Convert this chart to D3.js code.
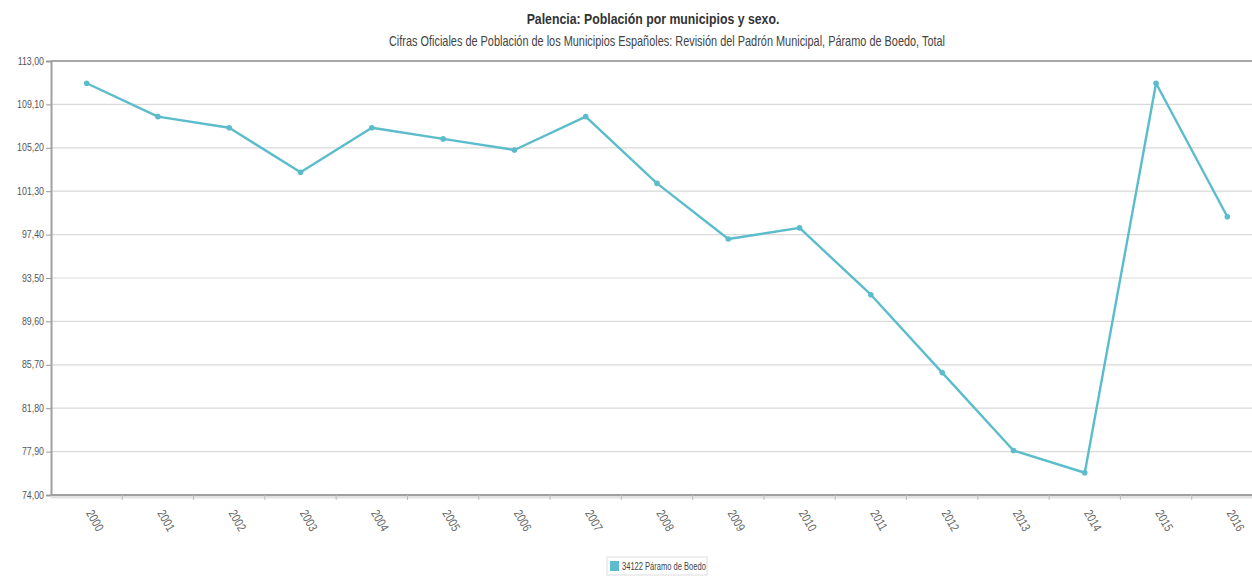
<!DOCTYPE html>
<html>
<head>
<meta charset="utf-8">
<script src="https://cdn.jsdelivr.net/npm/d3@7"></script>
<style>
  html, body { margin: 0; padding: 0; background: #fff; }
  svg { display: block; }
  text { font-family: "Liberation Sans", Arial, sans-serif; }
</style>
</head>
<body>
<svg id="chart" width="1252" height="577"></svg>
<script>
// Population of Páramo de Boedo (Palencia), municipal register
const years = ["2000","2001","2002","2003","2004","2005","2006","2007","2008",
               "2009","2010","2011","2012","2013","2014","2015","2016"];
const population = [111,108,107,103,107,106,105,108,102,97,98,92,85,78,76,111,99];
const yTicks = [74.0,77.9,81.8,85.7,89.6,93.5,97.4,101.3,105.2,109.1,113.0];
const seriesName = "34122 Páramo de Boedo";
const titleText = "Palencia: Población por municipios y sexo.";
const subtitleText = "Cifras Oficiales de Población de los Municipios Españoles: Revisión del Padrón Municipal, Páramo de Boedo, Total";

const svg = d3.select("#chart");
const plot = { left: 51, right: 1263, top: 61, bottom: 495 };
const lineColor = "#5bbccb";
const narrow = 0.8; // horizontal condensing of all labels

const fmt = v => v.toFixed(2).replace(".", ",");

const x = d3.scaleBand().domain(years).range([plot.left, plot.right]);
const y = d3.scaleLinear().domain([74, 113]).range([plot.bottom, plot.top]);

// condensed text helper
function ctext(parent, tx, ty, str, opts) {
  const g = parent.append("g")
    .attr("transform", `translate(${tx},${ty}) ${opts.rotate ? `rotate(${opts.rotate})` : ""} scale(${opts.sx || narrow},1)`);
  return g.append("text")
    .attr("text-anchor", opts.anchor || "start")
    .attr("font-size", opts.size).attr("font-weight", opts.weight || "normal")
    .attr("fill", opts.fill || "#444").text(str);
}

// titles
ctext(svg, 653, 24, titleText, { anchor: "middle", size: 15, weight: "bold", fill: "#333", sx: 0.82 });
ctext(svg, 667, 46, subtitleText, { anchor: "middle", size: 14, fill: "#444", sx: 0.78 });

// horizontal grid
svg.append("g").selectAll("line").data(yTicks).join("line")
  .attr("x1", plot.left).attr("x2", plot.right)
  .attr("y1", d => y(d)).attr("y2", d => y(d))
  .attr("stroke", "#d9d9d9").attr("stroke-width", 1.2);

// top frame line
svg.append("line").attr("x1", plot.left).attr("x2", plot.right)
  .attr("y1", plot.top).attr("y2", plot.top)
  .attr("stroke", "#a8a8a8").attr("stroke-width", 2);

// y axis
const yAxis = svg.append("g").attr("transform", `translate(${plot.left},0)`)
  .call(d3.axisLeft(y).tickValues(yTicks).tickFormat("").tickSize(5));
yAxis.select(".domain").attr("stroke", "#a0a0a0").attr("stroke-width", 2);
yAxis.selectAll(".tick line").attr("stroke", "#999");
yTicks.forEach(t => {
  ctext(svg, plot.left - 7, y(t) + 3.5, fmt(t), { anchor: "end", size: 11, fill: "#555", sx: 0.8 });
});

// x axis: ticks at band boundaries, labels at band centres
const xAxisG = svg.append("g").attr("transform", `translate(0,${plot.bottom})`);
xAxisG.append("line").attr("x1", plot.left).attr("x2", plot.right)
  .attr("y1", 2).attr("y2", 2).attr("stroke", "#e2e2e2").attr("stroke-width", 3);
xAxisG.append("line").attr("x1", plot.left).attr("x2", plot.right)
  .attr("y1", 0).attr("y2", 0).attr("stroke", "#a0a0a0").attr("stroke-width", 2);
xAxisG.selectAll("line.tk").data(years.slice(1)).join("line").attr("class", "tk")
  .attr("x1", d => x(d)).attr("x2", d => x(d))
  .attr("y1", 0).attr("y2", 5).attr("stroke", "#bbb");
years.forEach(yr => {
  ctext(xAxisG, x(yr) + x.bandwidth() / 2 - 1, 18, yr, { size: 12.5, fill: "#666", rotate: 60, sx: 0.8 });
});

// series line and markers
const line = d3.line().x((d, i) => x(years[i]) + x.bandwidth() / 2).y(d => y(d));
svg.append("path").datum(population)
  .attr("d", line).attr("fill", "none")
  .attr("stroke", lineColor).attr("stroke-width", 2.4).attr("stroke-linejoin", "round");
svg.append("g").selectAll("circle").data(population).join("circle")
  .attr("cx", (d, i) => x(years[i]) + x.bandwidth() / 2)
  .attr("cy", d => y(d)).attr("r", 2.8).attr("fill", lineColor);

// legend
const lg = svg.append("g").attr("transform", "translate(607,557)");
lg.append("rect").attr("x", 0).attr("y", 0).attr("width", 100).attr("height", 18)
  .attr("fill", "#fff").attr("stroke", "#ddd");
lg.append("rect").attr("x", 3).attr("y", 4).attr("width", 9).attr("height", 10)
  .attr("fill", lineColor);
ctext(lg, 15, 13, seriesName, { size: 10.5, fill: "#444", sx: 0.72 });
</script>
</body>
</html>
